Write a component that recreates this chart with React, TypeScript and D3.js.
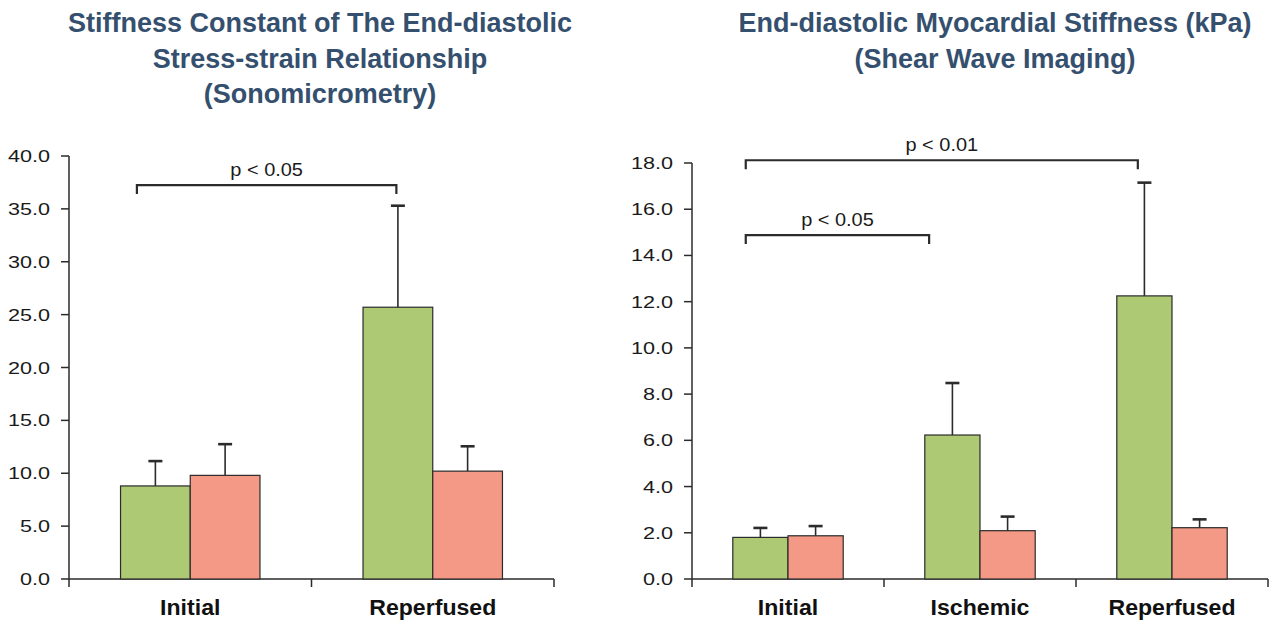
// @ts-nocheck
import * as d3 from "d3"

// left panel: sonomicrometry
const leftCategories = ["Initial", "Reperfused"]
const leftGreen = [8.8, 25.7]
const leftGreenErr = [2.35, 9.6]
const leftPink = [9.8, 10.2]
const leftPinkErr = [2.95, 2.35]
const leftTicks = [0, 5, 10, 15, 20, 25, 30, 35, 40]

// right panel: shear wave imaging
const rightCategories = ["Initial", "Ischemic", "Reperfused"]
const rightGreen = [1.8, 6.23, 12.25]
const rightGreenErr = [0.41, 2.25, 4.9]
const rightPink = [1.87, 2.09, 2.22]
const rightPinkErr = [0.42, 0.61, 0.36]
const rightTicks = [0, 2, 4, 6, 8, 10, 12, 14, 16, 18]

const GREEN = "#adc974"
const PINK = "#f39985"
const INK = "#2b2b2b"
const TITLE = "#35506e"
const FONT = "'Liberation Sans', Arial, Helvetica, sans-serif"

// text stretched horizontally around its anchor point
const Txt = ({ x, y, sx = 1, children, ...rest }) => (
  <text transform={`translate(${x},${y}) scale(${sx},1)`} {...rest}>
    {children}
  </text>
)

function Panel({ x0, x1, yTop, yMax, ticks, categories, green, greenErr, pink, pinkErr, brackets, title }) {
  const y = d3.scaleLinear().domain([0, yMax]).range([579, yTop])
  const x = d3.scaleBand().domain(categories).range([x0, x1]).padding(0)
  const bw = x.bandwidth()
  const groupW = bw * 0.575
  const sub = d3.scaleBand().domain(["g", "p"]).range([0, groupW]).padding(0)
  const barX = (c, s) => x(c) + (bw - groupW) / 2 + sub(s)
  const cx = (c, f) => x(categories[c]) + bw * f

  const bar = (c, s, v, e) => {
    const bx = barX(c, s)
    const w = sub.bandwidth()
    const mid = bx + w / 2
    return (
      <g key={c + s}>
        <line x1={mid} x2={mid} y1={y(v)} y2={y(v + e)} stroke={INK} strokeWidth={1.6} />
        <line x1={mid - 7} x2={mid + 7} y1={y(v + e)} y2={y(v + e)} stroke={INK} strokeWidth={2.6} />
        <rect x={bx} y={y(v)} width={w} height={y(0) - y(v)} fill={s === "g" ? GREEN : PINK} stroke={INK} strokeWidth={1.2} />
      </g>
    )
  }

  return (
    <g fontFamily={FONT}>
      {title.lines.map((t, i) => (
        <text key={i} x={title.cx} y={32 + i * 35.5} textAnchor="middle" fontSize={27} fontWeight="bold" fill={TITLE}>
          {t}
        </text>
      ))}
      {/* y axis */}
      <line x1={x0} x2={x0} y1={y(yMax)} y2={y(0) + 8} stroke={INK} strokeWidth={1.5} />
      {ticks.map((t) => (
        <g key={t}>
          <line x1={x0 - 8} x2={x0} y1={y(t)} y2={y(t)} stroke={INK} strokeWidth={1.5} />
          <Txt x={x0 - 19} y={y(t) + 6} sx={1.27} textAnchor="end" fontSize={17} fill="#1a1a1a">
            {t.toFixed(1)}
          </Txt>
        </g>
      ))}
      {/* x axis */}
      <line x1={x0} x2={x1} y1={y(0)} y2={y(0)} stroke={INK} strokeWidth={1.5} />
      {categories.slice(1).map((c) => (
        <line key={c} x1={x(c)} x2={x(c)} y1={y(0)} y2={y(0) + 8} stroke={INK} strokeWidth={1.5} />
      ))}
      <line x1={x1} x2={x1} y1={y(0)} y2={y(0) + 8} stroke={INK} strokeWidth={1.5} />
      {categories.map((c) => (
        <Txt key={c} x={x(c) + bw / 2} y={615} sx={1.05} textAnchor="middle" fontSize={22} fontWeight="bold" fill="#111">
          {c}
        </Txt>
      ))}
      {categories.map((c, i) => (
        <g key={c}>
          {bar(c, "g", green[i], greenErr[i])}
          {bar(c, "p", pink[i], pinkErr[i])}
        </g>
      ))}
      {brackets.map((b, i) => {
        const a = cx(b.from[0], b.from[1])
        const z = cx(b.to[0], b.to[1])
        const by = y(b.value)
        return (
          <g key={i}>
            <path d={`M${a},${by + 9}V${by}H${z}V${by + 9}`} fill="none" stroke={INK} strokeWidth={2.2} />
            <Txt x={(a + z) / 2} y={by - 9} sx={1.05} textAnchor="middle" fontSize={19} fill="#1a1a1a">
              {b.label}
            </Txt>
          </g>
        )
      })}
    </g>
  )
}

export default function App() {
  return (
    <div style={{ position: "absolute", left: 0, top: 0 }}>
      <svg width={1281} height={621} style={{ display: "block", background: "#fff" }}>
        <Panel
          x0={69}
          x1={554}
          yTop={156}
          yMax={40}
          ticks={leftTicks}
          categories={leftCategories}
          green={leftGreen}
          greenErr={leftGreenErr}
          pink={leftPink}
          pinkErr={leftPinkErr}
          brackets={[{ from: [0, 0.28], to: [1, 0.35], value: 37.25, label: "p < 0.05" }]}
          title={{ cx: 320, lines: ["Stiffness Constant of The End-diastolic", "Stress-strain Relationship", "(Sonomicrometry)"] }}
        />
        <Panel
          x0={692}
          x1={1268}
          yTop={163}
          yMax={18}
          ticks={rightTicks}
          categories={rightCategories}
          green={rightGreen}
          greenErr={rightGreenErr}
          pink={rightPink}
          pinkErr={rightPinkErr}
          brackets={[
            { from: [0, 0.28], to: [2, 0.322], value: 18.12, label: "p < 0.01" },
            { from: [0, 0.28], to: [1, 0.235], value: 14.88, label: "p < 0.05" },
          ]}
          title={{ cx: 995, lines: ["End-diastolic Myocardial Stiffness (kPa)", "(Shear Wave Imaging)"] }}
        />
      </svg>
    </div>
  )
}
